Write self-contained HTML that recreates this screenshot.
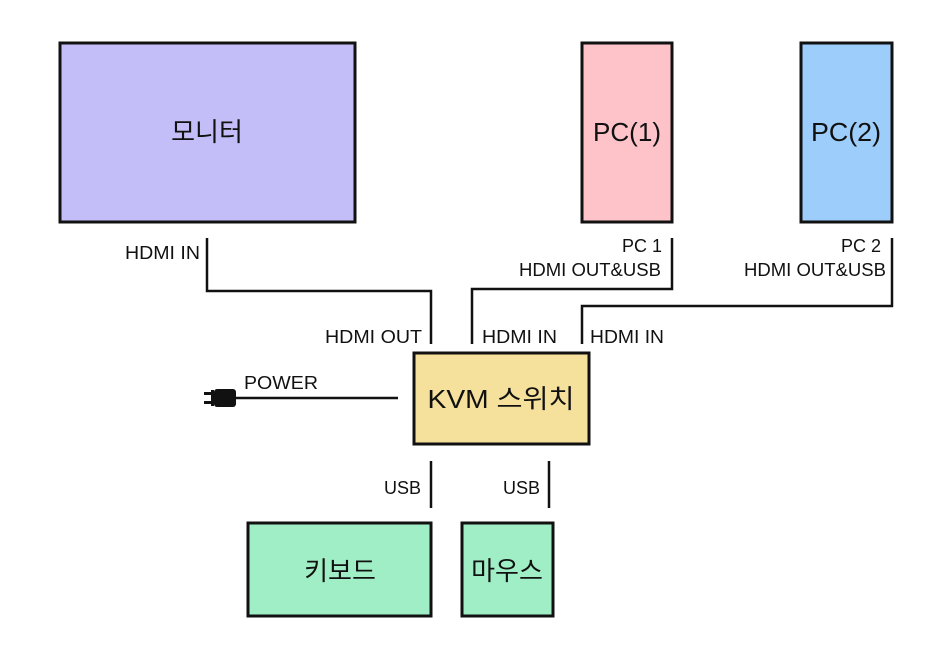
<!DOCTYPE html>
<html><head><meta charset="utf-8"><style>
body{margin:0;background:#fff;}
svg text{font-family:"Liberation Sans","Noto Sans CJK KR",sans-serif;fill:#111;}
</style></head><body>
<svg width="943" height="659" viewBox="0 0 943 659" xmlns="http://www.w3.org/2000/svg">
<g stroke="#111" stroke-width="3">
<rect x="60" y="43" width="295" height="179" fill="#c3bef7"/>
<rect x="582" y="43" width="90" height="179" fill="#fdc3c9"/>
<rect x="801" y="43" width="91" height="179" fill="#9dcdfb"/>
<rect x="414" y="353" width="175" height="91" fill="#f5e19b"/>
<rect x="248" y="523" width="183" height="93" fill="#a0eec5"/>
<rect x="462" y="523" width="91" height="93" fill="#a0eec5"/>
</g>
<g stroke="#111" stroke-width="2.5" fill="none">
<polyline points="207,238 207,291 431,291 431,344"/>
<polyline points="672,238 672,289 472,289 472,344"/>
<polyline points="892,238 892,306 582,306 582,344"/>
<line x1="236" y1="398" x2="398" y2="398"/>
<line x1="431" y1="461" x2="431" y2="508"/>
<line x1="549" y1="461" x2="549" y2="508"/>
</g>
<rect x="214" y="389" width="22" height="18" rx="3" fill="#111"/>
<rect x="204" y="392" width="10" height="3" fill="#111"/>
<rect x="204" y="401" width="10" height="3" fill="#111"/>
<rect x="211" y="390" width="3" height="16" fill="#111"/>
<g font-size="26" text-anchor="middle">
<text x="207" y="141">모니터</text>
<text x="627" y="141" textLength="68" lengthAdjust="spacingAndGlyphs">PC(1)</text>
<text x="846" y="141" textLength="70" lengthAdjust="spacingAndGlyphs">PC(2)</text>
<text x="501" y="408" textLength="147" lengthAdjust="spacingAndGlyphs">KVM 스위치</text>
<text x="340" y="580">키보드</text>
<text x="507" y="580">마우스</text>
</g>
<g font-size="18">
<text x="125" y="259" textLength="75" lengthAdjust="spacingAndGlyphs">HDMI IN</text>
<text x="662" y="252" text-anchor="end">PC 1</text>
<text x="661" y="276" text-anchor="end" textLength="142" lengthAdjust="spacingAndGlyphs">HDMI OUT&amp;USB</text>
<text x="881" y="252" text-anchor="end">PC 2</text>
<text x="886" y="276" text-anchor="end" textLength="142" lengthAdjust="spacingAndGlyphs">HDMI OUT&amp;USB</text>
<text x="422" y="343" text-anchor="end" textLength="97" lengthAdjust="spacingAndGlyphs">HDMI OUT</text>
<text x="482" y="343" textLength="75" lengthAdjust="spacingAndGlyphs">HDMI IN</text>
<text x="590" y="343" textLength="74" lengthAdjust="spacingAndGlyphs">HDMI IN</text>
<text x="244" y="389" textLength="74" lengthAdjust="spacingAndGlyphs">POWER</text>
<text x="421" y="494" text-anchor="end">USB</text>
<text x="540" y="494" text-anchor="end">USB</text>
</g>
</svg>
</body></html>
